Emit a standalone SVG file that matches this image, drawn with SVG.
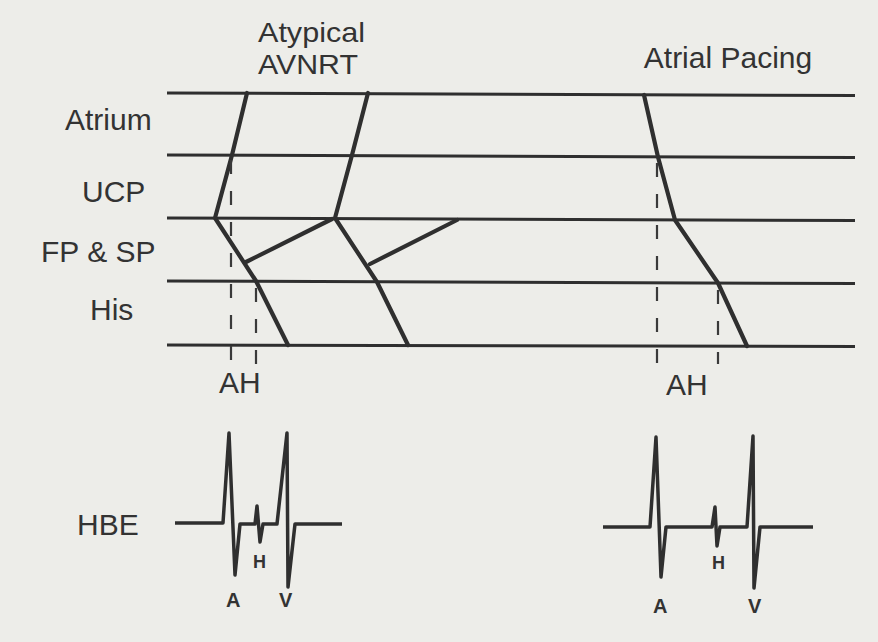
<svg xmlns="http://www.w3.org/2000/svg" width="878" height="642" viewBox="0 0 878 642">
<style>
.bg{fill:#edede9}
.tier{stroke:#2f2f2f;stroke-width:3;fill:none}
.path{stroke:#2f2f2f;stroke-width:4.2;fill:none;stroke-linejoin:round;stroke-linecap:round}
.dash{stroke:#3a3a3a;stroke-width:2.2;fill:none;stroke-dasharray:14 17}
.lbl{font-family:"Liberation Sans",Arial,Helvetica,sans-serif;font-size:30px;fill:#333}
.ttl{font-family:"Liberation Sans",Arial,Helvetica,sans-serif;font-size:28px;fill:#333}
.wlbl{font-family:"Liberation Sans",Arial,Helvetica,sans-serif;font-weight:bold;font-size:20px;fill:#333}
.hlbl{font-family:"Liberation Sans",Arial,Helvetica,sans-serif;font-weight:bold;font-size:18px;fill:#333}
.wave{stroke:#2f2f2f;stroke-width:3.5;fill:none;stroke-linejoin:round}
</style>
<rect class="bg" x="0" y="0" width="878" height="642"/>
<g id="titles">
<text class="ttl" x="258" y="42" textLength="107" lengthAdjust="spacingAndGlyphs">Atypical</text>
<text class="ttl" x="258" y="74" textLength="100" lengthAdjust="spacingAndGlyphs">AVNRT</text>
<text class="lbl" x="728" y="68" text-anchor="middle">Atrial Pacing</text>
</g>
<g id="tier-labels">
<text class="lbl" x="65" y="130">Atrium</text>
<text class="lbl" x="82" y="202">UCP</text>
<text class="lbl" x="41" y="262">FP &amp; SP</text>
<text class="lbl" x="90" y="320">His</text>
<text class="lbl" x="219" y="393">AH</text>
<text class="lbl" x="666" y="395">AH</text>
<text class="lbl" x="77" y="535">HBE</text>
</g>
<g id="tiers">
<line class="tier" x1="167" y1="93" x2="855" y2="95.5"/>
<line class="tier" x1="167" y1="155" x2="855" y2="157.5"/>
<line class="tier" x1="167" y1="218" x2="855" y2="220.5"/>
<line class="tier" x1="167" y1="281" x2="855" y2="283.5"/>
<line class="tier" x1="167" y1="345" x2="855" y2="346.5"/>
</g>
<g id="connectors">
<polyline class="path" points="247,93 232,155 215,218 256,281 288,345"/>
<polyline class="path" points="246,262 332,219"/>
<polyline class="path" points="368,93 352,155 335,218 377,282 408,345"/>
<polyline class="path" points="370,264 457,220"/>
<polyline class="path" points="644,95 658,157 675,220 718,283 747,346"/>
<line class="dash" x1="231" y1="160" x2="231" y2="364"/>
<line class="dash" x1="256" y1="288" x2="256" y2="364"/>
<line class="dash" x1="657" y1="163" x2="657" y2="364"/>
<line class="dash" x1="718" y1="290" x2="718" y2="364"/>
</g>
<g id="hbe-left">
<polyline class="wave" points="175,523 223,523 229,433 235,575 240,524 255,524 257,506 260,542 263,524 277,524 287,433 288,587 295,524 342,524"/>
<text class="wlbl" x="226" y="607">A</text>
<text class="hlbl" x="253" y="568">H</text>
<text class="wlbl" x="279" y="607">V</text>
</g>
<g id="hbe-right">
<polyline class="wave" points="603,527 650,527 656,437 661,577 666,527 712,527 715,507 717,546 720,527 747,527 753,436 754,588 760,527 813,527"/>
<text class="wlbl" x="653" y="613">A</text>
<text class="hlbl" x="712" y="569">H</text>
<text class="wlbl" x="748" y="613">V</text>
</g>
</svg>
